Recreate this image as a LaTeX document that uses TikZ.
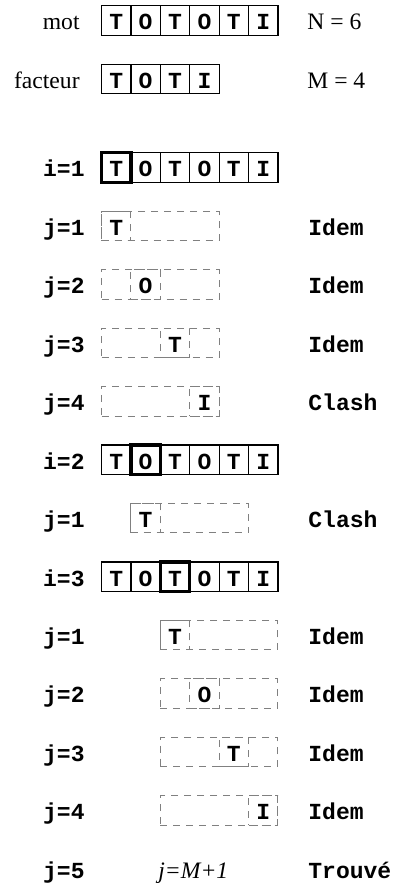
\documentclass[tikz,border=0pt]{standalone}
\usepackage{fontspec}
\setmainfont{Liberation Serif}
\setmonofont{Liberation Mono}
\usepackage{tikz}

\tikzset{
  cell/.style={draw, line width=0.6pt, minimum width=14.7pt, minimum height=14.75pt,
    inner sep=0pt, text height=9.4pt, text depth=0pt,
    font=\fontsize{11.5}{13}\selectfont\ttfamily\bfseries},
  pick/.style={cell, line width=1.6pt},
  ghost/.style={cell, draw=gray, line width=0.5pt, dash pattern=on 3.5pt off 3pt},
  tag/.style={inner sep=0pt, font=\fontsize{11.5}{13}\selectfont\ttfamily\bfseries},
  word/.style={inner sep=0pt, font=\fontsize{11.8}{14}\selectfont},
}

\begin{document}
\begin{tikzpicture}[x=0.5pt, y=-0.5pt]
\useasboundingbox (0,0) rectangle (394,886);

% --- Layout (pixel grid, y down) ---
\def\xA{101.5}      % left edge of the word
\def\cellW{29.4}    % one cell width
\def\rowI{167.5}    % first i row
\def\rowStep{58.45} % row spacing
\def\base{9.4}      % baseline below row centre

% Row: mot
\node[word, anchor=base east] (motL) at (80, 20.5+\base) {mot};
\foreach \c [count=\k] in {T,O,T,O,T,I}
  \node[cell] (m\k) at ({\xA+(\k-0.5)*\cellW}, 20.5) {\c};
\node[word, anchor=base west] (motN) at (307, 20.5+\base) {N = 6};

% Row: facteur
\node[word, anchor=base east] (facL) at (80, 79+\base) {facteur};
\foreach \c [count=\k] in {T,O,T,I}
  \node[cell] (f\k) at ({\xA+(\k-0.5)*\cellW}, 79) {\c};
\node[word, anchor=base west] (facM) at (307, 79+\base) {M = 4};

% i rows: the word, current cell in bold frame
\foreach \r/\i in {0/1, 5/2, 7/3} {
  \node[tag, anchor=base east] (iL\i) at (85, {\rowI+\r*\rowStep+\base}) {i=\i};
  \foreach \c [count=\k] in {T,O,T,O,T,I}
    \node[cell] (w\i-\k) at ({\xA+(\k-0.5)*\cellW}, {\rowI+\r*\rowStep}) {\c};
  \node[pick] (p\i) at (w\i-\i) {};
}

% j rows: dashed factor, shifted by i-1, only cell j shown
\foreach \r/\o/\j/\c/\s in {1/0/1/T/Idem, 2/0/2/O/Idem, 3/0/3/T/Idem, 4/0/4/I/Clash,
    6/1/1/T/Clash, 8/2/1/T/Idem, 9/2/2/O/Idem, 10/2/3/T/Idem, 11/2/4/I/Idem} {
  \node[tag, anchor=base east] (jL\r) at (85, {\rowI+\r*\rowStep+\base}) {j=\j};
  \node[ghost, minimum width=58.8pt] (g\r) at ({\xA+(\o+2)*\cellW}, {\rowI+\r*\rowStep}) {};
  \node[ghost] (gc\r) at ({\xA+(\o+\j-0.5)*\cellW}, {\rowI+\r*\rowStep}) {\c};
  \node[tag, anchor=base west] (st\r) at (308, {\rowI+\r*\rowStep+\base}) {\s};
}

% Last row: match found
\node[tag, anchor=base east] (jL12) at (85, {\rowI+12*\rowStep+\base}) {j=5};
\node[word, anchor=base west, font=\fontsize{11.8}{14}\selectfont\itshape] (jEnd)
  at (158, {\rowI+12*\rowStep+\base}) {j=M+1};
\node[tag, anchor=base west] (st12) at (308, {\rowI+12*\rowStep+\base}) {Trouvé};

\end{tikzpicture}
\end{document}
